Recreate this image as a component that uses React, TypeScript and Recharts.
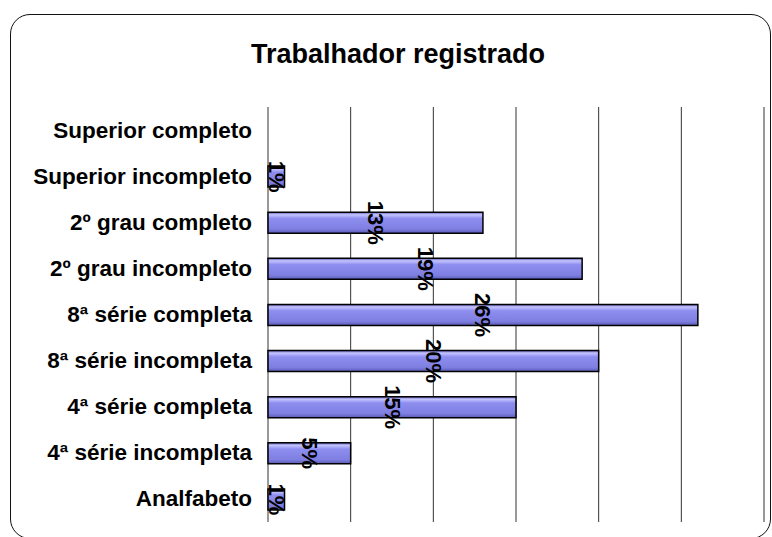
import { BarChart, Bar, XAxis, YAxis, CartesianGrid, LabelList } from "recharts";

const FONT = "'Liberation Sans', Arial, Helvetica, sans-serif";

const categories = [
  "Superior completo",
  "Superior incompleto",
  "2º grau completo",
  "2º grau incompleto",
  "8ª série completa",
  "8ª série incompleta",
  "4ª série completa",
  "4ª série incompleta",
  "Analfabeto",
];
const percents = [0, 1, 13, 19, 26, 20, 15, 5, 1];
const xTicks = [0, 5, 10, 15, 20, 25, 30];

const data = categories.map((name, i) => ({ name, value: percents[i] }));

function CategoryTick(props: any) {
  const { x, y, payload } = props;
  return (
    <text
      x={x - 8}
      y={y}
      textAnchor="end"
      dominantBaseline="central"
      fontFamily={FONT}
      fontWeight="bold"
      fontSize={22.5}
      fill="#000"
    >
      {payload.value}
    </text>
  );
}

function ValueLabel(props: any) {
  const { x, y, width, height, value } = props;
  if (!value) return null;
  const cx = x + width / 2;
  const cy = y + height / 2;
  return (
    <text
      x={cx}
      y={cy}
      transform={`rotate(90 ${cx} ${cy})`}
      textAnchor="middle"
      dominantBaseline="central"
      fontFamily={FONT}
      fontWeight="bold"
      fontSize={22}
      fill="#000"
    >
      {value}%
    </text>
  );
}

export default function App() {
  return (
    <div style={{ position: "relative", width: 772, height: 537, overflow: "hidden", background: "#fff" }}>
      <style>{`body{margin:0}`}</style>
      <div
        style={{
          position: "absolute",
          left: 10,
          top: 14,
          width: 761,
          height: 525,
          border: "1.5px solid #111",
          borderRadius: 20,
          boxSizing: "border-box",
        }}
      />
      <div
        style={{
          position: "absolute",
          left: 0,
          width: 796,
          top: 36,
          textAlign: "center",
          fontFamily: FONT,
          fontWeight: "bold",
          fontSize: 27,
          lineHeight: "36px",
          color: "#000",
        }}
      >
        Trabalhador registrado
      </div>
      <BarChart
        width={772}
        height={537}
        data={data}
        layout="vertical"
        margin={{ top: 107, right: 8, bottom: 15, left: 0 }}
        barSize={21}
        style={{ position: "absolute", left: 0, top: 0 }}
      >
        <defs>
          <linearGradient id="barFill" x1="0" y1="0" x2="0" y2="1">
            <stop offset="0%" stopColor="#5c5cb8" />
            <stop offset="12%" stopColor="#c4c4ff" />
            <stop offset="30%" stopColor="#8e8ef0" />
            <stop offset="80%" stopColor="#7f7fe2" />
            <stop offset="100%" stopColor="#5a5ab4" />
          </linearGradient>
        </defs>
        <CartesianGrid horizontal={false} vertical={true} stroke="#333" strokeWidth={1} />
        <XAxis type="number" domain={[0, 30]} ticks={xTicks} hide />
        <YAxis
          type="category"
          dataKey="name"
          width={268}
          axisLine={false}
          tickLine={false}
          tick={<CategoryTick />}
          interval={0}
        />
        <Bar dataKey="value" fill="url(#barFill)" stroke="#000" strokeWidth={1.5} isAnimationActive={false}>
          <LabelList dataKey="value" content={<ValueLabel />} />
        </Bar>
      </BarChart>
    </div>
  );
}
